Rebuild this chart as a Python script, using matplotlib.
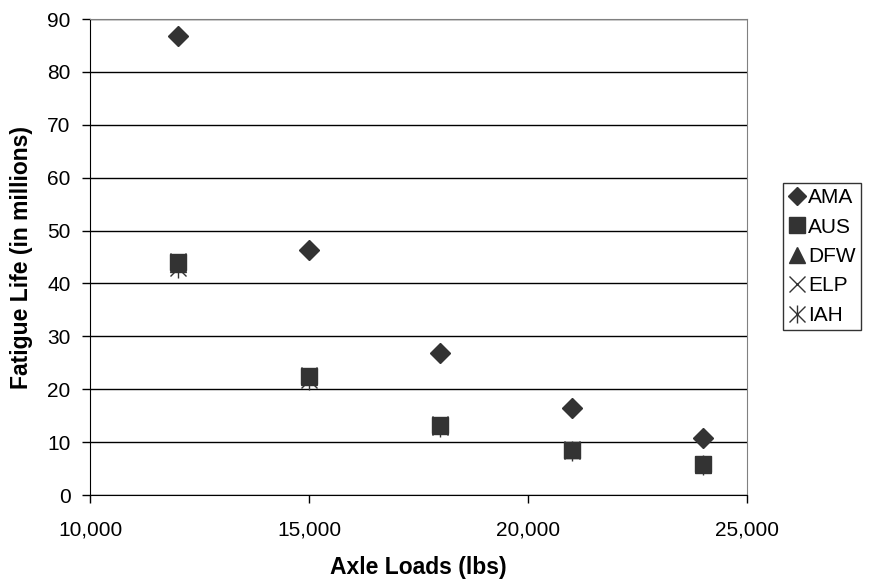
import matplotlib
matplotlib.use("Agg")
import matplotlib.pyplot as plt
from matplotlib.ticker import FuncFormatter, MultipleLocator
from matplotlib.lines import Line2D

plt.rcParams['font.family'] = ['Liberation Sans', 'DejaVu Sans']

axle_loads = [12000, 15000, 18000, 21000, 24000]
ama = [86.8, 46.3, 26.8, 16.5, 10.8]
aus = [44.0, 22.5, 13.3, 8.6, 5.8]
dfw = [43.7, 22.3, 13.1, 8.5, 5.7]
elp = [44.3, 22.6, 13.4, 8.7, 5.8]
iah = [43.0, 21.8, 12.9, 8.3, 5.6]

col = '#333333'
fig = plt.figure(figsize=(8.88, 5.87), dpi=100)
ax = fig.add_axes([0.1014, 0.1567, 0.7398, 0.8109])

ax.plot(axle_loads, ama, linestyle='none', marker='D', ms=10, color=col, zorder=3)
ax.plot(axle_loads, aus, linestyle='none', marker='s', ms=12, color=col, zorder=3)
ax.plot(axle_loads, dfw, linestyle='none', marker='^', ms=12, color=col, zorder=3)
ax.plot(axle_loads, elp, linestyle='none', marker='x', ms=12, mew=1.0, color=col, zorder=4)
ax.plot(axle_loads, iah, linestyle='none', marker='x', ms=12, mew=1.0, color=col, zorder=4)
ax.plot(axle_loads, iah, linestyle='none', marker='|', ms=14, mew=1.0, color=col, zorder=4)

ax.set_xlim(10000, 25000)
ax.set_ylim(0, 90)
ax.xaxis.set_major_locator(MultipleLocator(5000))
ax.yaxis.set_major_locator(MultipleLocator(10))
ax.xaxis.set_major_formatter(FuncFormatter(lambda v, p: f"{int(v):,}"))
ax.grid(axis='y', color='black', linewidth=1.0)
ax.set_axisbelow(True)
for s in ['top', 'right']:
    ax.spines[s].set_color('#808080')
for s in ['left', 'bottom']:
    ax.spines[s].set_color('black')
ax.tick_params(axis='both', direction='out', length=6, width=1, labelsize=15)
ax.tick_params(axis='x', pad=12)
ax.tick_params(axis='y', pad=8)
ax.set_xlabel('Axle Loads (lbs)', fontsize=16.5, fontweight='bold', labelpad=12)
ax.set_ylabel('Fatigue Life (in millions)', fontsize=16.5, fontweight='bold', labelpad=10)

h_ama = Line2D([], [], linestyle='none', marker='D', ms=9, color=col)
h_aus = Line2D([], [], linestyle='none', marker='s', ms=11, color=col)
h_dfw = Line2D([], [], linestyle='none', marker='^', ms=11, color=col)
h_elp = Line2D([], [], linestyle='none', marker='x', ms=11, mew=1.0, color=col)
h_iah1 = Line2D([], [], linestyle='none', marker='x', ms=11, mew=1.0, color=col)
h_iah2 = Line2D([], [], linestyle='none', marker='|', ms=13, mew=1.0, color=col)
leg = fig.legend([h_ama, h_aus, h_dfw, h_elp, (h_iah1, h_iah2)],
                 ['AMA', 'AUS', 'DFW', 'ELP', 'IAH'],
                 loc='upper left', bbox_to_anchor=(783 / 888, 1 - 183 / 587),
                 fontsize=15, frameon=True, fancybox=False, edgecolor='black',
                 handlelength=0.8, handletextpad=0.15, borderpad=0.25,
                 labelspacing=0.5, borderaxespad=0)
leg.get_frame().set_linewidth(1.0)

fig.savefig('out.png', dpi=100)
